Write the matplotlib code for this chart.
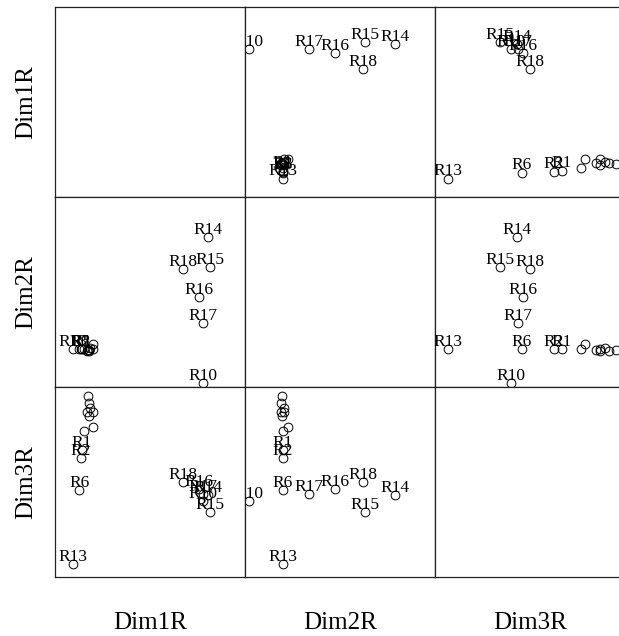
import numpy as np
import matplotlib
matplotlib.use("Agg")
import matplotlib.pyplot as plt

plt.rcParams['font.family'] = ['Liberation Serif', 'DejaVu Serif']

names = ["R1", "R2", "R3", "R4", "R5", "R6", "R7", "R8", "R9",
         "R10", "R11", "R12", "R13", "R14", "R15", "R16", "R17", "R18"]
# only these carry a visible label in the chart
shown = ["R1", "R2", "R6", "R10", "R13", "R14", "R15", "R16", "R17", "R18"]

dim1 = [2.65, 2.55, 3.33, 3.43, 3.5, 2.43, 3.23, 3.83, 3.43,
        14.8, 3.83, 2.93, 1.83, 15.3, 15.5, 14.4, 14.8, 12.8]
dim2 = [3.8, 3.8, 3.73, 3.63, 3.9, 3.8, 3.57, 3.85, 3.73,
        0.4, 4.3, 3.8, 3.8, 15.0, 12.0, 9.0, 6.4, 11.8]
dim3 = [12.7, 11.9, 18.1, 17.4, 16.95, 8.7, 16.5, 16.47, 16.1,
        7.6, 15.0, 14.6, 1.3, 8.2, 6.5, 8.8, 8.3, 9.5]

var_names = ["Dim1R", "Dim2R", "Dim3R"]
data = [np.array(dim1), np.array(dim2), np.array(dim3)]

W, H = 619, 636
fig = plt.figure(figsize=(W / 100, H / 100), dpi=100)

left, top, size = 55, 7, 190
for i in range(3):          # rows -> y variable
    for j in range(3):      # cols -> x variable
        x0 = (left + j * size) / W
        y0 = (H - (top + (i + 1) * size)) / H
        ax = fig.add_axes([x0, y0, size / W, size / H])
        ax.set_xlim(0, 19)
        ax.set_ylim(0, 19)
        ax.set_xticks([]); ax.set_yticks([])
        for s in ax.spines.values():
            s.set_linewidth(0.9)
            s.set_color('#222222')
        if i == j:
            continue
        xs, ys = data[j], data[i]
        ax.plot(xs, ys, 'o', ms=6.3, mfc='none', mec='black', mew=0.7)
        for k, nm in enumerate(names):
            if nm in shown:
                ax.annotate(nm, (xs[k], ys[k]), xytext=(0, 2.4),
                            textcoords='offset points', ha='center',
                            va='baseline', fontsize=12.5, clip_on=True)

for j, nm in enumerate(var_names):
    fig.text((left + j * size + size / 2) / W, 1 - 623 / H, nm,
             ha='center', va='center', fontsize=18)
for i, nm in enumerate(var_names):
    fig.text(26 / W, 1 - (top + i * size + size / 2) / H, nm,
             ha='center', va='center', rotation=90, fontsize=18)

fig.savefig("out.png", dpi=100)
